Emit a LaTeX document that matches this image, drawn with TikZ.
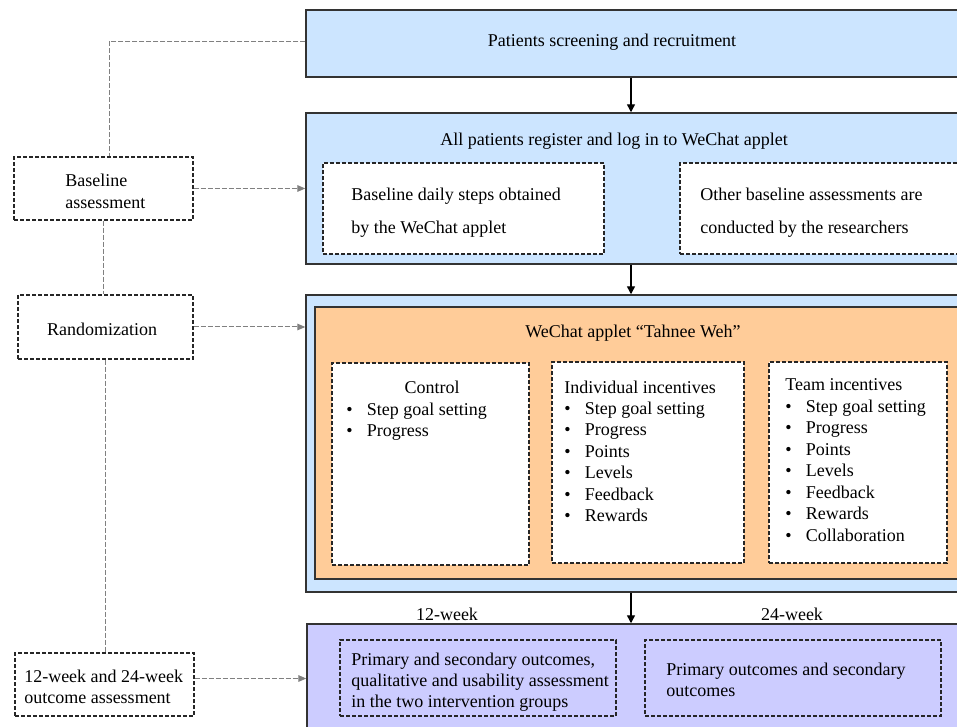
\documentclass[tikz,border=0pt]{standalone}
\usepackage{fontspec}
\setmainfont{Liberation Serif}
\usetikzlibrary{arrows.meta,fit}
\definecolor{stageblue}{HTML}{CCE5FF}
\definecolor{appletorange}{HTML}{FFCC99}
\definecolor{outcomepurple}{HTML}{CCCCFF}
\newcommand{\itm}[1]{\makebox[15.5pt][l]{\textbullet}#1}
\newcommand{\rows}[1]{\begin{tabular}[t]{@{}l@{}}#1\end{tabular}}
\begin{document}
\begin{tikzpicture}[x=0.75pt,y=-0.75pt,
    font=\fontsize{13.5}{16.1}\selectfont,
    stage/.style={draw=black!80,line width=1.1pt,inner sep=0pt},
    dashbox/.style={draw=black!85,line width=0.8pt,dash pattern=on 3pt off 1.5pt,inner sep=0pt},
    whitebox/.style={dashbox,fill=white},
    txt/.style={inner sep=0pt},
    link/.style={draw=black!50,line width=0.75pt,dash pattern=on 3.75pt off 1.5pt},
    linkarrow/.style={link,-{Triangle[length=6pt,width=5pt]}},
    flow/.style={line width=1pt,-{Triangle[length=6pt,width=6pt]}}]
    \useasboundingbox (0,0) rectangle (957,727);
    \clip (0,0) rectangle (957,727);
    %% Screening
    \node[stage,fill=stageblue,fit={(306,10) (975,77)}] (screen) {};
    \node[txt,anchor=base] (screentext) at (612,47) {Patients screening and recruitment};
    %% Registration and baseline
    \node[stage,fill=stageblue,fit={(306,113) (975,264)}] (register) {};
    \node[txt,anchor=base] (registertext) at (614,146) {All patients register and log in to WeChat applet};
    \node[whitebox,fit={(323,163) (604,254)}] (steps) {};
    \node[txt,anchor=base west] (stepstext) at (351,201) {\rows{Baseline daily steps obtained\\[8.6pt] by the WeChat applet}};
    \node[whitebox,fit={(680,163) (962,254)}] (others) {};
    \node[txt,anchor=base west] (otherstext) at (700,201) {\rows{Other baseline assessments are\\[8.6pt] conducted by the researchers}};
    %% Groups
    \node[stage,fill=stageblue,fit={(306,295) (975,592)}] (groups) {};
    \node[stage,fill=appletorange,fit={(315,307) (975,579)}] (applet) {};
    \node[txt,anchor=base] (applettext) at (633,338) {WeChat applet ``Tahnee Weh''};
    \node[whitebox,fit={(332,363) (529,565)}] (control) {};
    \node[txt,anchor=base] (controltitle) at (432,393) {Control};
    \node[txt,anchor=base west] (controllist) at (346,415) {\rows{\itm{Step goal setting}\\ \itm{Progress}}};
    \node[whitebox,fit={(552,362) (744,563)}] (individual) {};
    \node[txt,anchor=base west] (individuallist) at (564,393) {\rows{Individual incentives\\ \itm{Step goal setting}\\ \itm{Progress}\\ \itm{Points}\\ \itm{Levels}\\ \itm{Feedback}\\ \itm{Rewards}}};
    \node[whitebox,fit={(769,362) (947,563)}] (team) {};
    \node[txt,anchor=base west] (teamlist) at (785,391) {\rows{Team incentives\\ \itm{Step goal setting}\\ \itm{Progress}\\ \itm{Points}\\ \itm{Levels}\\ \itm{Feedback}\\ \itm{Rewards}\\ \itm{Collaboration}}};
    %% Outcomes
    \node[txt,anchor=base] (week12label) at (447,620) {12-week};
    \node[txt,anchor=base] (week24label) at (792,620) {24-week};
    \node[stage,fill=outcomepurple,fit={(307,624) (975,740)}] (outcome) {};
    \node[dashbox,fit={(340,640) (616,716)}] (week12) {};
    \node[txt,anchor=base west] (week12text) at (351,665) {\rows{Primary and secondary outcomes,\\ qualitative and usability assessment\\ in the two intervention groups}};
    \node[dashbox,fit={(645,640) (941,716)}] (week24) {};
    \node[txt,anchor=base west] (week24text) at (666,675) {\rows{Primary outcomes and secondary\\ outcomes}};
    %% Assessments
    \node[whitebox,fit={(14,157) (193,220)}] (base) {};
    \node[txt,anchor=base west] (basetext) at (65,187) {\rows{Baseline\\ assessment}};
    \node[whitebox,fit={(18,295) (193,359)}] (rand) {};
    \node[txt,anchor=base] (randtext) at (102,335) {Randomization};
    \node[whitebox,fit={(15,653) (194,716)}] (follow) {};
    \node[txt,anchor=base west] (followtext) at (24,682) {\rows{12-week and 24-week\\ outcome assessment}};
    %% Flow
    \coordinate (spine) at (631,0);
    \draw[flow] (screen.south -| spine) -- (register.north -| spine);
    \draw[flow] (register.south -| spine) -- (groups.north -| spine);
    \draw[flow] (groups.south -| spine) -- (outcome.north -| spine);
    %% Links
    \draw[link] ([yshift=1.8pt]screen.west) -| ([xshift=4.5pt]base.north);
    \draw[link] (base.south) -- (base.south |- rand.north);
    \draw[link] (rand.south) -- (rand.south |- follow.north);
    \draw[linkarrow] (base.east) -- (base.east -| register.west);
    \draw[linkarrow] (rand.east) -- (rand.east -| groups.west);
    \coordinate (followout) at ([yshift=4.5pt]follow.east);
    \draw[linkarrow] (followout) -- (followout -| outcome.west);
\end{tikzpicture}
\end{document}
